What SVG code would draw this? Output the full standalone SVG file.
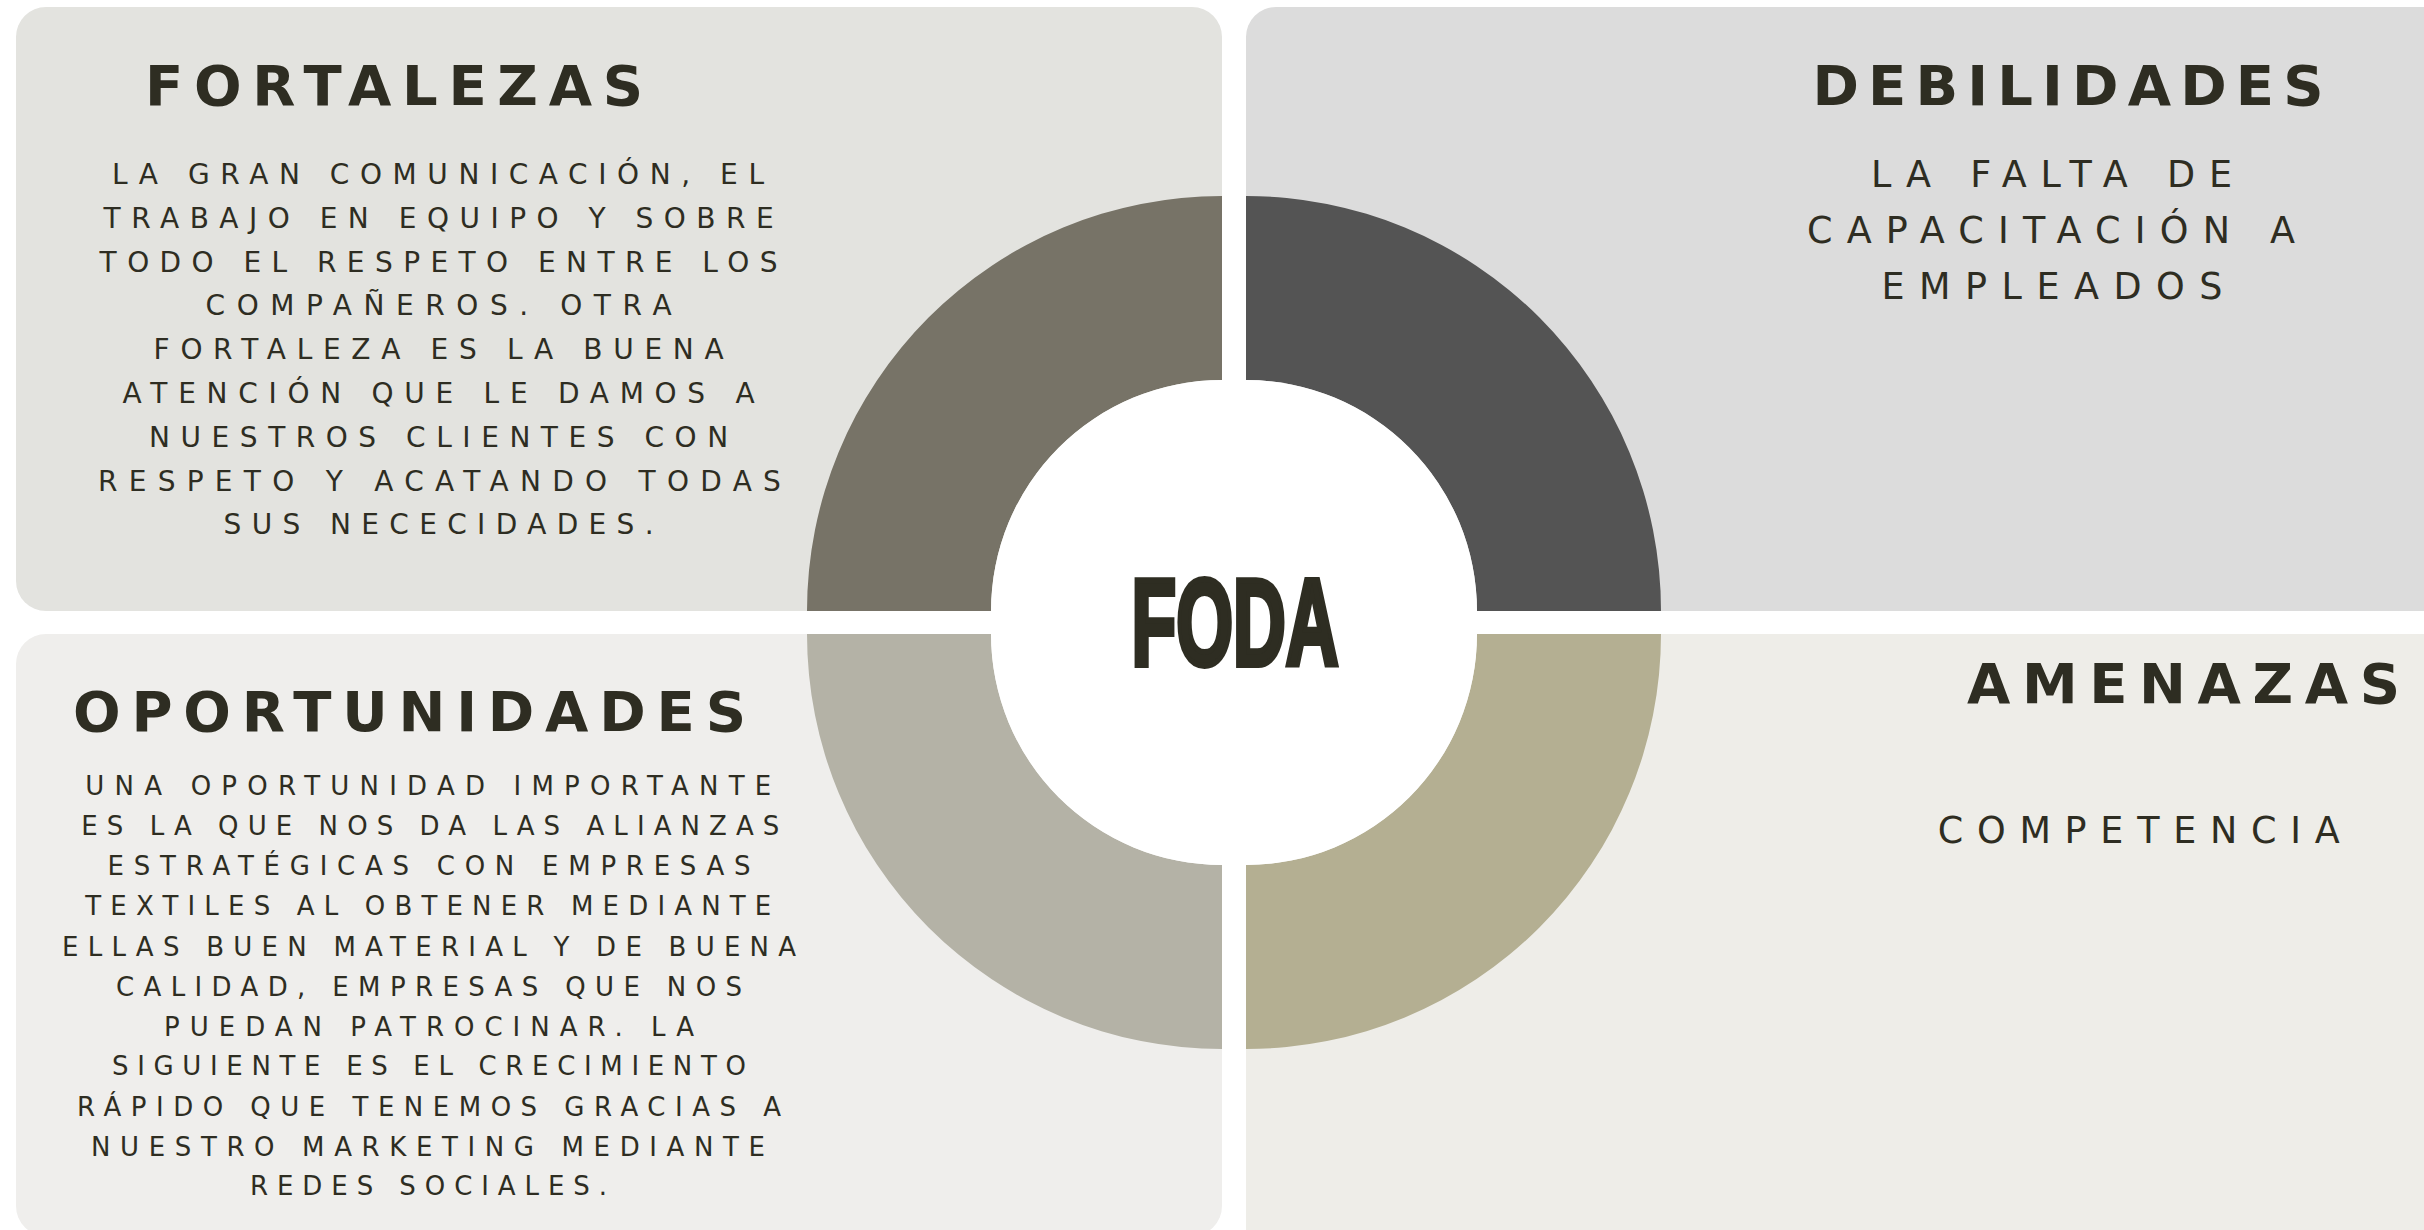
<svg xmlns="http://www.w3.org/2000/svg" width="2424" height="1230" viewBox="0 0 2424 1230">
<style>
.h{font-family:"DejaVu Sans","Liberation Sans",sans-serif;font-weight:bold;font-size:56px;fill:#2E2D22;text-anchor:middle}
.b{font-family:"DejaVu Sans","Liberation Sans",sans-serif;fill:#2E2D22;text-anchor:middle}
.b1{font-size:28px}
.b2{font-size:26px}
.b3{font-size:36.5px}
.foda{font-family:"Liberation Sans",Arial,sans-serif;font-weight:bold;font-size:122px;fill:#2E2D22;stroke:#2E2D22;stroke-width:6;stroke-linejoin:miter;text-anchor:middle}
</style>
<rect width="2424" height="1230" fill="#FFFFFF"/>
<g id="panel-fortalezas">
<rect x="16" y="7" width="1206" height="604" rx="30" fill="#E3E3DF"/>
</g>
<g id="panel-debilidades">
<rect x="1246" y="7" width="1220" height="604" rx="30" fill="#DCDCDC"/>
</g>
<g id="panel-oportunidades">
<rect x="16" y="634" width="1206" height="602" rx="30" fill="#EFEEEC"/>
</g>
<g id="panel-amenazas">
<rect x="1246" y="634" width="1220" height="640" rx="30" fill="#EEEDE8"/>
</g>
<g id="ring">
<path d="M 807 611 A 415 415 0 0 1 1222 196 L 1222 380 A 231 231 0 0 0 991 611 Z" fill="#777367"/>
<path d="M 1246 196 A 415 415 0 0 1 1661 611 L 1477 611 A 231 231 0 0 0 1246 380 Z" fill="#545454"/>
<path d="M 807 634 L 991 634 A 231 231 0 0 0 1222 865 L 1222 1049 A 415 415 0 0 1 807 634 Z" fill="#B4B2A6"/>
<path d="M 1246 865 A 231 231 0 0 0 1477 634 L 1661 634 A 415 415 0 0 1 1246 1049 Z" fill="#B4AF92"/>
<path d="M 1222 611 L 991 611 A 231 231 0 0 1 1222 380 Z" fill="#FFFFFF"/>
<path d="M 1246 611 L 1246 380 A 231 231 0 0 1 1477 611 Z" fill="#FFFFFF"/>
<path d="M 1222 634 L 1222 865 A 231 231 0 0 1 991 634 Z" fill="#FFFFFF"/>
<path d="M 1246 634 L 1477 634 A 231 231 0 0 1 1246 865 Z" fill="#FFFFFF"/>
</g>
<g id="center-foda">
<text class="foda" x="1235" y="664.5" textLength="207" lengthAdjust="spacingAndGlyphs">FODA</text>
</g>
<g id="node-fortalezas">
<text class="h" x="394" y="105" textLength="498" lengthAdjust="spacing">FORTALEZAS</text>
<text class="b b1" x="438" y="184" textLength="652" lengthAdjust="spacing">LA GRAN COMUNICACIÓN, EL</text>
<text class="b b1" x="438.6" y="227.8" textLength="670" lengthAdjust="spacing">TRABAJO EN EQUIPO Y SOBRE</text>
<text class="b b1" x="438.6" y="271.6" textLength="678" lengthAdjust="spacing">TODO EL RESPETO ENTRE LOS</text>
<text class="b b1" x="438.6" y="315.4" textLength="466" lengthAdjust="spacing">COMPAÑEROS. OTRA</text>
<text class="b b1" x="438.6" y="359.2" textLength="570" lengthAdjust="spacing">FORTALEZA ES LA BUENA</text>
<text class="b b1" x="438.6" y="403" textLength="632" lengthAdjust="spacing">ATENCIÓN QUE LE DAMOS A</text>
<text class="b b1" x="438.6" y="446.8" textLength="579" lengthAdjust="spacing">NUESTROS CLIENTES CON</text>
<text class="b b1" x="439.4" y="490.6" textLength="683" lengthAdjust="spacing">RESPETO Y ACATANDO TODAS</text>
<text class="b b1" x="438.6" y="534.4" textLength="430" lengthAdjust="spacing">SUS NECECIDADES.</text>
</g>
<g id="node-debilidades">
<text class="h" x="2068" y="105" textLength="511" lengthAdjust="spacing">DEBILIDADES</text>
<text class="b b3" x="2051.5" y="186.5" textLength="361" lengthAdjust="spacing">LA FALTA DE</text>
<text class="b b3" x="2051" y="242.9" textLength="488" lengthAdjust="spacing">CAPACITACIÓN A</text>
<text class="b b3" x="2052" y="298.5" textLength="341" lengthAdjust="spacing">EMPLEADOS</text>
</g>
<g id="node-oportunidades">
<text class="h" x="409.5" y="730.6" textLength="673" lengthAdjust="spacing">OPORTUNIDADES</text>
<text class="b b2" x="428.3" y="795" textLength="686" lengthAdjust="spacing">UNA OPORTUNIDAD IMPORTANTE</text>
<text class="b b2" x="430.3" y="835" textLength="698" lengthAdjust="spacing">ES LA QUE NOS DA LAS ALIANZAS</text>
<text class="b b2" x="429.1" y="875.2" textLength="643" lengthAdjust="spacing">ESTRATÉGICAS CON EMPRESAS</text>
<text class="b b2" x="428.3" y="915.4" textLength="686" lengthAdjust="spacing">TEXTILES AL OBTENER MEDIANTE</text>
<text class="b b2" x="429.1" y="955.6" textLength="734" lengthAdjust="spacing">ELLAS BUEN MATERIAL Y DE BUENA</text>
<text class="b b2" x="429" y="995.7" textLength="626" lengthAdjust="spacing">CALIDAD, EMPRESAS QUE NOS</text>
<text class="b b2" x="429" y="1035.9" textLength="530" lengthAdjust="spacing">PUEDAN PATROCINAR. LA</text>
<text class="b b2" x="429" y="1075.3" textLength="634" lengthAdjust="spacing">SIGUIENTE ES EL CRECIMIENTO</text>
<text class="b b2" x="429" y="1115.5" textLength="704" lengthAdjust="spacing">RÁPIDO QUE TENEMOS GRACIAS A</text>
<text class="b b2" x="428" y="1155.6" textLength="674" lengthAdjust="spacing">NUESTRO MARKETING MEDIANTE</text>
<text class="b b2" x="428.5" y="1194.6" textLength="357" lengthAdjust="spacing">REDES SOCIALES.</text>
</g>
<g id="node-amenazas">
<text class="h" x="2183.5" y="703" textLength="433" lengthAdjust="spacing">AMENAZAS</text>
<text class="b b3" x="2138.7" y="843" textLength="402" lengthAdjust="spacing">COMPETENCIA</text>
</g>
<g id="connectors"></g>
</svg>
